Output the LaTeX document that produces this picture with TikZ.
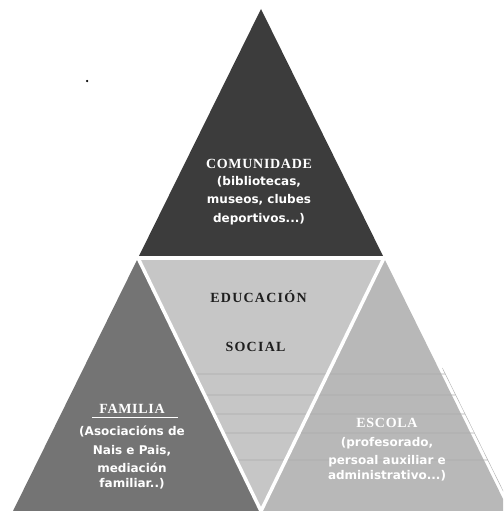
\documentclass[tikz,border=0pt]{standalone}
\usepackage{fontspec}
\setmainfont{Liberation Serif}
\newfontfamily\titlefont[LetterSpace=5]{Liberation Serif}
\newfontfamily\educfont[LetterSpace=9]{Liberation Serif}
\newfontfamily\bodyfont{DejaVu Sans}
\usetikzlibrary{calc}
\definecolor{comucol}{HTML}{3C3C3C}
\definecolor{famcol}{HTML}{747474}
\definecolor{educol}{HTML}{C6C6C6}
\definecolor{esccol}{HTML}{B8B8B8}
\definecolor{darktext}{HTML}{1E1E1E}
\tikzset{
  sepline/.style={white, line width=3.5pt, line cap=butt},
  faint/.style={gray!65, line width=0.6pt},
  titletext/.style={white, font=\titlefont\bfseries\fontsize{14}{16}\selectfont, inner sep=0pt},
  bodytext/.style={white, align=center, inner sep=0pt, font=\bodyfont\bfseries\fontsize{12}{18.5}\selectfont},
  eductext/.style={darktext, inner sep=0pt, font=\educfont\bfseries\fontsize{14}{16}\selectfont},
}
\begin{document}
\begin{tikzpicture}[x=1pt,y=-1pt]
\useasboundingbox (0,0) rectangle (503,511);
\coordinate (A) at (261,9);
\coordinate (L) at (13,511);
\coordinate (R) at (509,511);
\coordinate (ML) at (138,258);
\coordinate (MR) at (384,258);
\coordinate (MB) at (261,511);
\begin{scope}
\clip (0,0) rectangle (503,511);
\fill[comucol] (A) -- (ML) -- (MR) -- cycle;
\fill[famcol] (ML) -- (L) -- (MB) -- cycle;
\fill[educol] (ML) -- (MR) -- (MB) -- cycle;
\fill[esccol] (MR) -- (MB) -- (R) -- cycle;
\foreach \yy in {374,395,414,433,460}{
  \draw[faint] ($(ML)!{(\yy-258)/253}!(MB)$) -- ($(A)!{(\yy-9)/502}!(R) + (4,0)$);
}
\draw[faint, line width=0.4pt] ($(A)!{(368-9)/502}!(R) + (4,0)$) -- ($(R) + (4,0)$);
\draw[sepline] (ML) -- (MR);
\draw[sepline] (ML) -- (MB);
\draw[sepline] (MR) -- (MB);
\end{scope}
\node[name=dot, circle, fill=black, inner sep=0pt, minimum size=2.5pt] at (87,81) {};
% COMUNIDADE
\node[titletext] (comu) at (259,164) {COMUNIDADE};
\node[bodytext, anchor=north] (comubody) at (259,176) {(bibliotecas,\\museos, clubes\\deportivos...)};
% EDUCACION SOCIAL
\node[eductext] (educ) at (258.5,297) {EDUCACIÓN};
\node[eductext] (soc) at (255.5,347) {SOCIAL};
% FAMILIA
\node[titletext] (fam) at (132,409) {FAMILIA};
\draw[white, line width=0.8pt] (92,417) -- (178,417);
\node[bodytext, anchor=north] (fambody) at (132,426) {(Asociacións de\\Nais e Pais,\\mediación\\[-3.5pt]familiar..)};
% ESCOLA
\node[titletext] (esc) at (387,423) {ESCOLA};
\node[bodytext, anchor=north] (escbody) at (387,437) {(profesorado,\\persoal auxiliar e\\[-3.5pt]administrativo...)};
\end{tikzpicture}
\end{document}
